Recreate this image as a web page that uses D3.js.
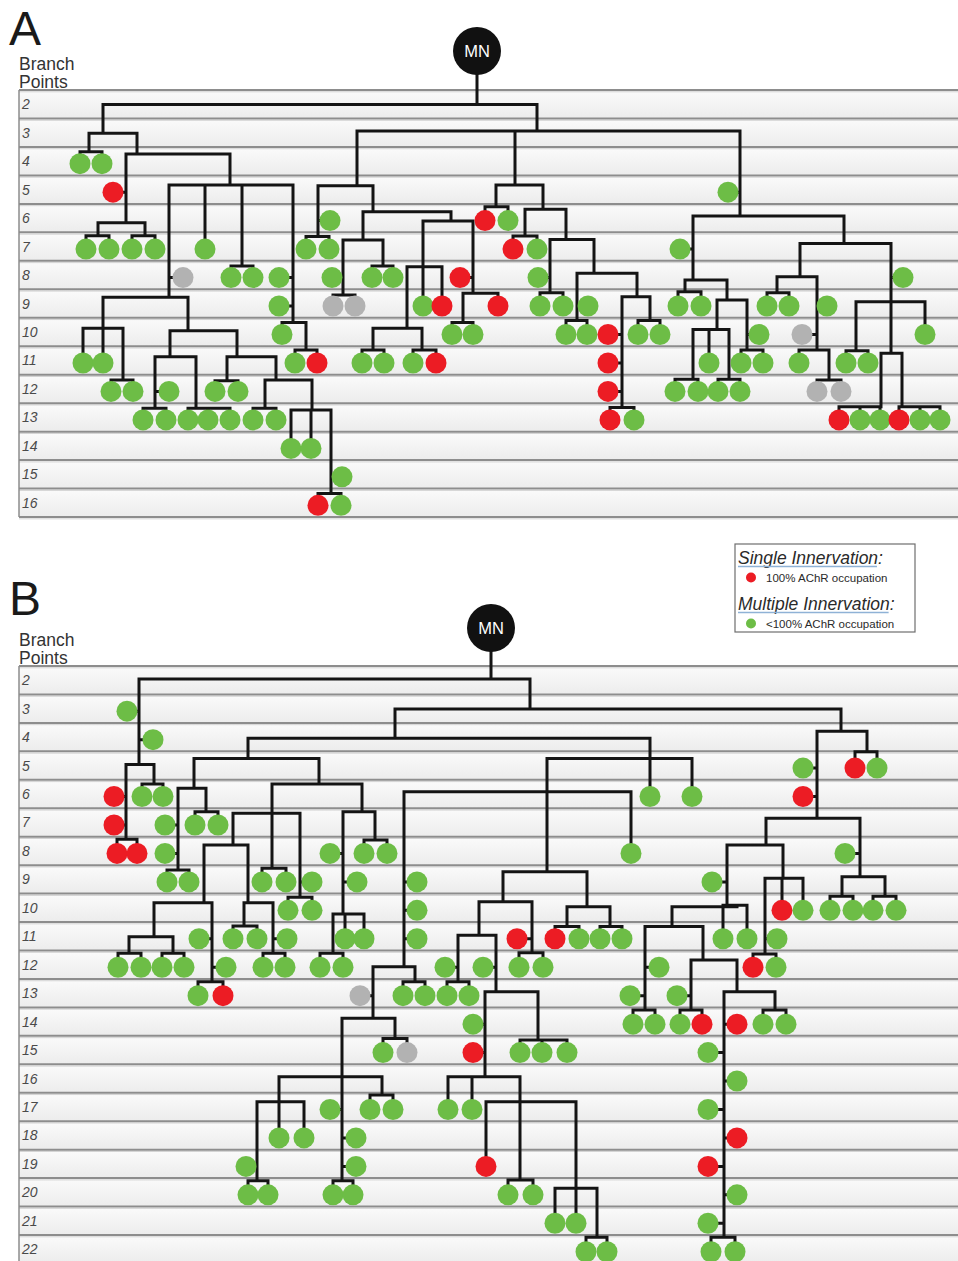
<!DOCTYPE html>
<html><head><meta charset="utf-8">
<script src="https://cdn.jsdelivr.net/npm/d3@7"></script>
<style>body{margin:0;background:#fff}svg{display:block}</style>
</head><body>
<svg id="c" width="958" height="1261"></svg>
<script>
// ---------- DATA ----------
const branchRowsA = d3.range(2, 17);
const branchRowsB = d3.range(2, 23);

// internal branch nodes: [id, parent, x, branch level of the horizontal bar]
const nodesA = [
["a0",null,477,2.01],["a1","a0",103,3.02],["a2","a1",89,3.67],["a3","a1",137,3.75],
["a4","a3",126,6.16],["a5","a4",98,6.62],["a6","a4",145,6.62],["a7","a3",230,4.84],
["a8","a7",169,8.78],["a9","a8",103,9.87],["a10","a9",123,11.69],["a11","a8",188,9.96],
["a12","a11",170,10.87],["a13","a12",155,12.68],["a14","a12",196,12.68],["a15","a11",237,10.87],
["a16","a15",227,11.71],["a17","a15",276,11.69],["a18","a17",265,12.68],["a19","a17",312,12.74],
["a20","a19",331,15.67],["a21","a7",242,7.68],["a22","a7",293,9.67],["a23","a22",306,10.63],
["a24","a0",537,2.94],["a25","a24",357,4.86],["a26","a25",318,6.65],["a27","a25",373,5.78],
["a28","a27",363,6.77],["a29","a28",343,8.70],["a30","a28",383,7.68],["a31","a27",451,6.10],
["a32","a31",423,7.71],["a33","a32",407,9.87],["a34","a33",373,10.63],["a35","a33",422,10.63],
["a36","a31",473,8.64],["a37","a36",463,9.67],["a38","a24",515,4.84],["a39","a38",496,5.60],
["a40","a38",543,5.69],["a41","a40",525,6.63],["a42","a40",566,6.75],["a43","a42",550,8.62],
["a44","a42",594,7.94],["a45","a44",577,9.60],["a46","a44",637,8.76],["a47","a46",622,12.65],
["a48","a46",650,9.60],["a49","a24",740,5.93],["a50","a49",693,8.17],["a51","a50",685,8.59],
["a52","a50",727,8.88],["a53","a52",717,9.91],["a54","a53",693,11.66],["a55","a53",729,11.66],
["a56","a52",747,10.63],["a57","a49",844,6.89],["a58","a57",800,8.06],["a59","a58",777,8.62],
["a60","a58",817,10.63],["a61","a60",829,11.69],["a62","a57",891,8.94],["a63","a62",856,10.66],
["a64","a62",891,10.75],["a65","a64",881,12.63],["a66","a64",902,12.63]
];
// terminals: [parent, x, branch points, type G/R/Y, side L/R (attached beside the parent's line)]
const leavesA = [
["a2",80,4,"G"],["a2",102,4,"G"],["a4",113,5,"R","L"],
["a5",86,7,"G"],["a5",109,7,"G"],["a6",132,7,"G"],["a6",155,7,"G"],["a7",205,7,"G"],
["a8",183,8,"Y","R"],["a9",83,11,"G"],["a9",103,11,"G"],["a10",111,12,"G"],["a10",133,12,"G"],
["a13",169,12,"G","R"],["a13",143,13,"G"],["a13",166,13,"G"],
["a14",188,13,"G"],["a14",208,13,"G"],["a14",230,13,"G"],
["a16",215,12,"G"],["a16",238,12,"G"],["a18",253,13,"G"],["a18",276,13,"G"],
["a19",291,14,"G"],["a19",311,14,"G"],
["a20",342,15,"G","R"],["a20",318,16,"R"],["a20",341,16,"G"],
["a21",231,8,"G"],["a21",253,8,"G"],
["a22",279,8,"G","L"],["a22",279,9,"G","L"],["a22",282,10,"G"],
["a23",295,11,"G"],["a23",317,11,"R"],
["a26",330,6,"G","R"],["a26",306,7,"G"],["a26",329,7,"G"],
["a29",332,8,"G","L"],["a29",333,9,"Y"],["a29",355,9,"Y"],
["a30",372,8,"G"],["a30",393,8,"G"],["a32",423,9,"G"],["a32",442,9,"R"],
["a34",362,11,"G"],["a34",384,11,"G"],["a35",413,11,"G"],["a35",436,11,"R"],
["a36",460,8,"R","L"],["a36",498,9,"R"],["a37",452,10,"G"],["a37",473,10,"G"],
["a39",485,6,"R"],["a39",508,6,"G"],["a41",513,7,"R"],["a41",537,7,"G"],
["a43",538,8,"G","L"],["a43",540,9,"G"],["a43",563,9,"G"],
["a45",588,9,"G","R"],["a45",566,10,"G"],["a45",587,10,"G"],
["a47",608,10,"R","L"],["a47",608,11,"R","L"],["a47",608,12,"R","L"],["a47",610,13,"R"],["a47",634,13,"G"],
["a48",638,10,"G"],["a48",660,10,"G"],["a49",728,5,"G","L"],["a50",680,7,"G","L"],
["a51",678,9,"G"],["a51",701,9,"G"],["a53",709,11,"G"],
["a54",675,12,"G"],["a54",698,12,"G"],["a55",718,12,"G"],["a55",740,12,"G"],
["a56",759,10,"G","R"],["a56",741,11,"G"],["a56",763,11,"G"],
["a59",767,9,"G"],["a59",789,9,"G"],
["a60",827,9,"G","R"],["a60",802,10,"Y","L"],["a60",799,11,"G"],
["a61",817,12,"Y"],["a61",841,12,"Y"],["a62",903,8,"G","R"],["a62",925,10,"G"],
["a63",846,11,"G"],["a63",868,11,"G"],
["a65",839,13,"R"],["a65",860,13,"G"],["a65",880,13,"G"],
["a66",899,13,"R"],["a66",920,13,"G"],["a66",940,13,"G"]
];

const nodesB = [
["b0",null,491,1.96],["b1","b0",139,4.96],["b2","b1",126,7.59],["b3","b1",154,5.65],
["b4","b0",530,3.01],["b5","b4",395,4.04],["b6","b5",248,4.75],["b7","b6",194,5.80],
["b8","b7",178,8.67],["b9","b7",206,6.62],["b10","b6",319,5.65],["b11","b10",272,6.68],
["b12","b11",233,7.79],["b13","b12",204,9.82],["b14","b13",154,11.02],["b15","b14",129,11.60],
["b16","b14",173,11.60],["b17","b13",212,12.60],["b18","b12",248,9.82],["b19","b18",244,10.64],
["b20","b18",273,11.60],["b21","b11",272,8.61],["b22","b11",300,9.63],["b23","b10",362,6.62],
["b24","b23",343,10.22],["b25","b24",333,11.60],["b26","b23",375,7.62],["b27","b5",650,4.75],
["b28","b27",547,5.92],["b29","b28",547,8.73],["b30","b29",503,9.79],["b31","b30",479,10.96],
["b32","b31",458,12.60],["b33","b31",496,12.95],["b34","b33",485,15.94],["b35","b34",520,16.82],
["b36","b35",520,19.57],["b37","b35",576,19.86],["b38","b37",597,21.58],["b39","b33",538,14.65],
["b40","b30",532,11.58],["b41","b29",587,9.96],["b42","b41",567,10.66],["b43","b41",610,10.66],
["b44","b28",404,12.07],["b45","b44",373,13.88],["b46","b45",395,14.59],["b47","b45",342,15.94],
["b48","b47",342,19.59],["b49","b47",279,16.82],["b50","b49",257,19.59],["b51","b47",382,16.58],
["b52","b44",415,12.60],["b53","b4",841,3.79],["b54","b53",867,4.51],["b55","b53",817,6.85],
["b56","b55",766,7.79],["b57","b56",727,9.96],["b58","b57",672,10.66],["b59","b58",645,13.59],
["b60","b58",703,11.83],["b61","b60",691,13.59],["b62","b60",737,12.95],["b63","b62",724,21.58],
["b64","b62",775,13.59],["b65","b57",737,9.91],["b66","b56",783,8.96],["b67","b66",765,11.62],
["b68","b55",860,8.91],["b69","b68",842,9.59],["b70","b68",885,9.59]
];
const leavesB = [
["b1",127,3,"G","L"],["b1",153,4,"G","R"],
["b2",114,6,"R","L"],["b2",114,7,"R","L"],["b2",117,8,"R"],["b2",137,8,"R"],
["b3",142,6,"G"],["b3",163,6,"G"],
["b8",165,7,"G","L"],["b8",165,8,"G","L"],["b8",167,9,"G"],["b8",189,9,"G"],
["b9",195,7,"G"],["b9",218,7,"G"],["b15",118,12,"G"],["b15",141,12,"G"],
["b16",162,12,"G"],["b16",184,12,"G"],
["b17",199,11,"G","L"],["b17",226,12,"G","R"],["b17",198,13,"G"],["b17",223,13,"R"],
["b19",233,11,"G"],["b19",257,11,"G"],
["b20",287,11,"G","R"],["b20",263,12,"G"],["b20",285,12,"G"],
["b21",262,9,"G"],["b21",286,9,"G"],
["b22",312,9,"G","R"],["b22",288,10,"G"],["b22",312,10,"G"],
["b24",330,8,"G","L"],["b24",357,9,"G","R"],["b24",345,11,"G"],["b24",364,11,"G"],
["b25",320,12,"G"],["b25",343,12,"G"],["b26",364,8,"G"],["b26",387,8,"G"],
["b27",650,6,"G"],["b27",692,6,"G"],["b28",631,8,"G"],
["b32",445,12,"G","L"],["b32",447,13,"G"],["b32",469,13,"G"],["b33",483,12,"G","L"],
["b34",473,14,"G","L"],["b34",473,15,"R","L"],["b34",448,17,"G"],["b34",472,17,"G"],
["b35",486,19,"R"],["b36",508,20,"G"],["b36",533,20,"G"],
["b37",555,21,"G"],["b37",576,21,"G"],["b38",586,22,"G"],["b38",607,22,"G"],
["b39",520,15,"G"],["b39",542,15,"G"],["b39",567,15,"G"],
["b40",517,11,"R","L"],["b40",519,12,"G"],["b40",543,12,"G"],
["b42",555,11,"R"],["b42",579,11,"G"],["b43",600,11,"G"],["b43",622,11,"G"],
["b44",417,9,"G","R"],["b44",417,10,"G","R"],["b44",417,11,"G","R"],
["b45",360,13,"Y","L"],["b46",383,15,"G"],["b46",407,15,"Y"],
["b48",330,17,"G","L"],["b48",356,18,"G","R"],["b48",356,19,"G","R"],["b48",333,20,"G"],["b48",353,20,"G"],
["b49",279,18,"G"],["b49",304,18,"G"],
["b50",246,19,"G","L"],["b50",248,20,"G"],["b50",268,20,"G"],
["b51",370,17,"G"],["b51",393,17,"G"],["b52",403,13,"G"],["b52",425,13,"G"],
["b54",855,5,"R"],["b54",877,5,"G"],["b55",803,5,"G","L"],["b55",803,6,"R","L"],
["b57",712,9,"G","L"],
["b59",659,12,"G","R"],["b59",630,13,"G","L"],["b59",633,14,"G"],["b59",655,14,"G"],
["b61",677,13,"G","L"],["b61",680,14,"G"],["b61",702,14,"R"],
["b63",737,14,"R","R"],["b63",708,15,"G","L"],["b63",737,16,"G","R"],["b63",708,17,"G","L"],
["b63",737,18,"R","R"],["b63",708,19,"R","L"],["b63",737,20,"G","R"],["b63",708,21,"G","L"],
["b63",711,22,"G"],["b63",735,22,"G"],
["b64",763,14,"G"],["b64",786,14,"G"],["b65",723,11,"G"],["b65",747,11,"G"],
["b66",782,10,"R"],["b66",803,10,"G"],
["b67",777,11,"G","R"],["b67",753,12,"R"],["b67",776,12,"G"],
["b68",845,8,"G","L"],["b69",830,10,"G"],["b69",853,10,"G"],["b70",873,10,"G"],["b70",896,10,"G"]
];

const legendTitles = ["Single Innervation:", "Multiple Innervation:"];
const legendLabels = ["100% AChR occupation", "<100% AChR occupation"];
const legendTypes = ["R", "G"];

// ---------- STYLE ----------
const colors = {G:"#6dbd46", R:"#ec1c24", Y:"#b2b2b2"};
const R = 10.5;
const FONT = "'Liberation Sans', Arial, Helvetica, sans-serif";

const svg = d3.select("#c");
const defs = svg.append("defs");
const grad = defs.append("linearGradient").attr("id","band").attr("x1",0).attr("y1",0).attr("x2",0).attr("y2",1);
grad.append("stop").attr("offset","0%").attr("stop-color","#fbfbfb");
grad.append("stop").attr("offset","100%").attr("stop-color","#ececec");

function drawPanel(P) {
  const g = svg.append("g");
  const n = P.rows.length;
  const y = d3.scaleLinear().domain([P.rows[0], P.rows[n-1]])
      .range([P.top + P.rowH/2, P.top + P.rowH*(n-0.5)]);
  const x = d3.scaleLinear().domain([0, 958]).range([0, 958]);

  // letter + axis title
  g.append("text").attr("x", 9).attr("y", P.letterY).text(P.letter)
    .attr("font-family", FONT).attr("font-size", 48).attr("fill", "#1a1a1a");
  g.append("text").attr("x", 19).attr("y", P.top - 20).text("Branch")
    .attr("font-family", FONT).attr("font-size", 17.5).attr("fill", "#333");
  g.append("text").attr("x", 19).attr("y", P.top - 2.5).text("Points")
    .attr("font-family", FONT).attr("font-size", 17.5).attr("fill", "#333");

  // bands
  g.selectAll("rect.band").data(P.rows).join("rect").attr("class","band")
    .attr("x", 19).attr("y", d => y(d) - P.rowH/2).attr("width", 939).attr("height", P.rowH)
    .attr("fill", "url(#band)");
  const bounds = [P.rows[0] - 0.5].concat(P.rows.map(d => d + 0.5));
  g.selectAll("line.sh").data(bounds).join("line").attr("class","sh")
    .attr("x1", 19).attr("x2", 958).attr("y1", d => y(d) + 1.8).attr("y2", d => y(d) + 1.8)
    .attr("stroke", "#d2d2d2").attr("stroke-width", 1);
  g.selectAll("line.bd").data(bounds).join("line").attr("class","bd")
    .attr("x1", 19).attr("x2", 958).attr("y1", d => y(d)).attr("y2", d => y(d))
    .attr("stroke", "#8d8d8d").attr("stroke-width", 2);
  g.append("line").attr("x1", 19).attr("x2", 19)
    .attr("y1", y(bounds[0])).attr("y2", y(bounds[bounds.length-1]))
    .attr("stroke", "#8d8d8d").attr("stroke-width", 1.5);
  g.selectAll("text.rl").data(P.rows).join("text").attr("class","rl")
    .attr("x", 22).attr("y", d => y(d) + 5).text(d => d)
    .attr("font-family", FONT).attr("font-style", "italic").attr("font-size", 14)
    .attr("fill", "#4a4a4a");

  // tree
  const nodes = P.nodes.map(d => ({id:d[0], parent:d[1], x:d[2], bar:d[3]}));
  const byId = new Map(nodes.map(d => [d.id, d]));
  const leaves = P.leaves.map(d => ({parent:d[0], x:d[1], row:d[2], type:d[3], side:d[4]||""}));
  const leafY = l => y(l.row) + 2.5;
  const segs = [];
  const root = nodes.find(d => d.parent === null);
  segs.push(`M${x(root.x)},${P.mn[1] + 20}V${y(root.bar)}`);
  nodes.forEach(nd => {
    const xs = [nd.x];
    nodes.filter(c => c.parent === nd.id).forEach(c => xs.push(c.x));
    leaves.filter(l => l.parent === nd.id && !l.side).forEach(l => xs.push(l.x));
    const [a, b] = d3.extent(xs);
    if (b > a) segs.push(`M${x(a)},${y(nd.bar)}H${x(b)}`);
    if (nd.parent !== null) {
      const p = byId.get(nd.parent);
      segs.push(`M${x(nd.x)},${y(p.bar)}V${y(nd.bar)}`);
    }
  });
  leaves.forEach(l => {
    const p = byId.get(l.parent);
    if (!l.side) segs.push(`M${x(l.x)},${y(p.bar)}V${leafY(l) - R + 1}`);
    else {
      const dir = l.side === "L" ? 1 : -1;
      segs.push(`M${x(l.x) + dir*(R-1)},${leafY(l)}H${x(p.x)}`);
    }
  });
  g.append("path").attr("d", segs.join(""))
    .attr("fill", "none").attr("stroke", "#141414").attr("stroke-width", 3)
    .attr("stroke-linecap", "square");

  g.selectAll("circle.leaf").data(leaves).join("circle").attr("class","leaf")
    .attr("cx", d => x(d.x)).attr("cy", leafY).attr("r", R)
    .attr("fill", d => colors[d.type]);

  // motor neuron
  g.append("circle").attr("cx", x(root.x) ).attr("cy", P.mn[1]).attr("r", 24).attr("fill", "#111");
  g.append("text").attr("x", x(root.x)).attr("y", P.mn[1] + 6).attr("text-anchor", "middle")
    .text("MN").attr("font-family", FONT).attr("font-size", 16.5).attr("fill", "#fff");
}

drawPanel({rows: branchRowsA, nodes: nodesA, leaves: leavesA, top: 90, rowH: 28.47,
           mn: [477, 51], letter: "A", letterY: 45});
drawPanel({rows: branchRowsB, nodes: nodesB, leaves: leavesB, top: 666, rowH: 28.45,
           mn: [491, 628], letter: "B", letterY: 615});

// legend
const lg = svg.append("g");
lg.append("rect").attr("x", 735).attr("y", 544).attr("width", 180).attr("height", 88)
  .attr("fill", "#fff").attr("stroke", "#6e6e6e").attr("stroke-width", 1.2);
legendTitles.forEach((t, i) => {
  const ty = 564 + i * 46;
  const tt = lg.append("text").attr("x", 738).attr("y", ty).text(t)
    .attr("font-family", FONT).attr("font-style", "italic").attr("font-size", 17.5)
    .attr("fill", "#2a2a2a");
  const w = tt.node().getComputedTextLength();
  lg.append("line").attr("x1", 738).attr("x2", 738 + w - 6).attr("y1", ty + 2.5).attr("y2", ty + 2.5)
    .attr("stroke", "#8fb2d6").attr("stroke-width", 1.3);
  lg.append("circle").attr("cx", 751).attr("cy", ty + 13.5).attr("r", 5).attr("fill", colors[legendTypes[i]]);
  lg.append("text").attr("x", 766).attr("y", ty + 18).text(legendLabels[i])
    .attr("font-family", FONT).attr("font-size", 11.5).attr("fill", "#2a2a2a");
});
</script>
</body></html>
